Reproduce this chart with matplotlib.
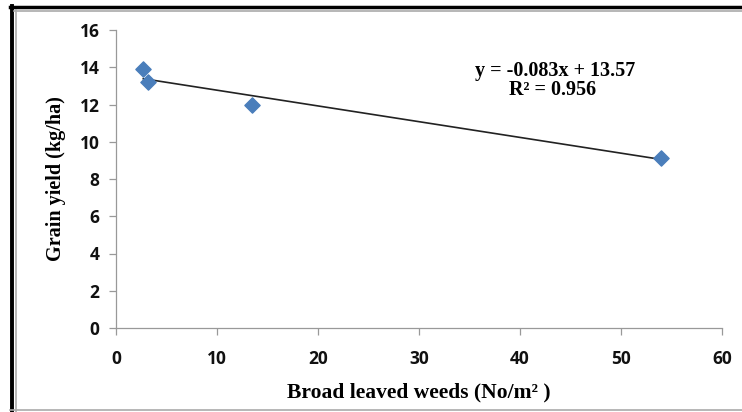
import numpy as np
from matplotlib import pyplot as plt
from matplotlib.lines import Line2D

# broad leaved weeds (No/m2) vs grain yield
weeds = [2.7, 3.2, 13.5, 54.0]
grain_yield = [13.9, 13.2, 12.0, 9.15]

x_ticks = [0, 10, 20, 30, 40, 50, 60]
y_ticks = [0, 2, 4, 6, 8, 10, 12, 14, 16]

W, H = 742, 412
fig = plt.figure(figsize=(W / 100, H / 100), dpi=100)
ax = fig.add_axes([116 / W, 1 - 328 / H, (722 - 116) / W, (328 - 30) / H])

# trendline
slope, intercept = np.polyfit(weeds, grain_yield, 1)
xs = np.array([min(weeds), max(weeds)])
ax.plot(xs, slope * xs + intercept, color="#222222", lw=1.2, zorder=2)

ax.scatter(weeds, grain_yield, marker="D", s=60, color="#4a7ebb", zorder=3)

ax.set_xlim(0, 60)
ax.set_ylim(0, 16)
ax.set_xticks(x_ticks)
ax.set_yticks(y_ticks)

for s in ["top", "right"]:
    ax.spines[s].set_visible(False)
for s in ["left", "bottom"]:
    ax.spines[s].set_color("#999999")
    ax.spines[s].set_linewidth(0.9)
ax.tick_params(direction="out", length=5, color="#999999", width=0.9,
               labelsize=12.5, pad=7, labelcolor="#111111")
for lab in ax.get_xticklabels() + ax.get_yticklabels():
    lab.set_fontfamily("Open Sans")
    lab.set_fontweight("bold")
ax.tick_params(axis="x", pad=11)

serif = dict(fontfamily="Liberation Serif", fontweight="bold")
ax.set_ylabel("Grain yield (kg/ha)", fontsize=14.5, labelpad=10, **serif)
ax.set_xlabel("Broad leaved weeds (No/m\u00b2 )", fontsize=15.5,
              labelpad=10, **serif)

fig.text(555 / W, 1 - 71 / H, "y = -0.083x + 13.57", ha="center", va="center",
         fontsize=14.5, **serif)
fig.text(553 / W, 1 - 90 / H, "R\u00b2 = 0.956", ha="center", va="center",
         fontsize=14.5, **serif)

# picture frame
def px_line(x0, y0, x1, y1, color, lw):
    fig.add_artist(Line2D([x0 / W, x1 / W], [1 - y0 / H, 1 - y1 / H],
                          color=color, lw=lw, transform=fig.transFigure))

px_line(11.5, 6, 11.5, H, "black", 2.8)
px_line(10, 7, W, 7, "black", 2.5)
px_line(15.5, 10, 15.5, H, "#aaaaaa", 1.2)
px_line(14, 10.5, W, 10.5, "#aaaaaa", 1.2)
px_line(10, 410, W, 410, "#aaaaaa", 1.2)

fig.savefig("out.png", dpi=100)
